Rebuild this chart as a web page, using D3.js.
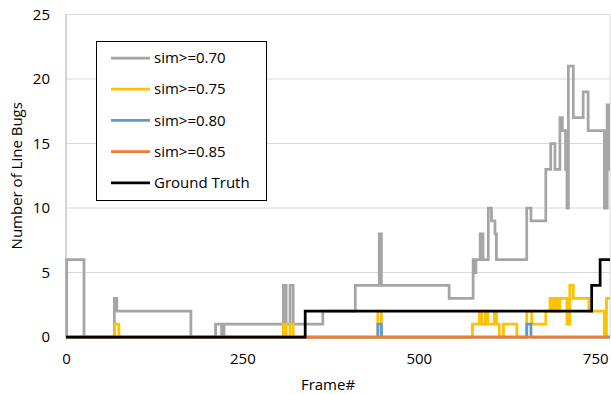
<!DOCTYPE html>
<html>
<head>
<meta charset="utf-8">
<script src="https://cdn.jsdelivr.net/npm/d3@7"></script>
<style>
  html, body { margin: 0; padding: 0; background: #fff; }
  svg text { font-family: "Open Sans", "Noto Sans", sans-serif; fill: #000; }
</style>
</head>
<body>
<div id="chart"></div>
<script>
// step series: [frame, bugs], each value holds until the next frame
const sim070 = [[0,0],[1,6],[25.5,0],[68.5,3],[72,2],[177,0],[212,1],[220.5,0],[224,1],[308,4],[312,1],[317.5,4],[322,1],
  [364,2],[410,4],[444,8],[447,4],[543,3],[577,6],[579,5],[581,6],[587,8],[591,6],[598.5,10],[603,9],[608,8],[610,6],
  [653,10],[659,9],[680,13],[687,15],[693,13],[700,17],[703.5,16],[708,13],[710,10],[712,21],[719,17],[733,19],[740,16],
  [763,10],[767,18],[769,13],[771,13]];
const sim075 = [[0,0],[69,1],[75,0],[308,1],[312,0],[317.5,1],[322,0],[442,2],[447,0],[576,1],[586,2],[589,1],[594,2],
  [598,1],[607,2],[610,1],[614,0],[620,1],[639,0],[653,2],[660,1],[680,2],[686,3],[690,2],[693,3],[697,2],[700,3],
  [710,1],[714,4],[719,3],[741,2],[763,0],[766,3],[771,3]];
const sim080 = [[0,0],[442,1],[447,0],[653,1],[659,0],[771,0]];
const sim085 = [[0,0],[771,0]];
const truth  = [[0,0],[339,2],[745,4],[757,6],[771,6]];

const seriesNames = ["sim>=0.70", "sim>=0.75", "sim>=0.80", "sim>=0.85", "Ground Truth"];
const seriesData = [sim070, sim075, sim080, sim085, truth];
const seriesColors = ["#A5A5A5", "#FFC000", "#5B9BD5", "#ED7D31", "#000000"];
const xTicks = [0, 250, 500, 750];
const yTicks = [0, 5, 10, 15, 20, 25];

const W = 611, H = 394;
const m = { t: 14.5, r: 1, b: 57, l: 66 };
const iw = W - m.l - m.r, ih = H - m.t - m.b;

const svg = d3.select("#chart").append("svg").attr("width", W).attr("height", H);
const g = svg.append("g").attr("transform", `translate(${m.l},${m.t})`);

const x = d3.scaleLinear().domain([0, 771]).range([0, iw]);
const y = d3.scaleLinear().domain([0, 25]).range([ih, 0]);

svg.append("defs").append("clipPath").attr("id", "plotclip")
  .append("rect").attr("x", -2).attr("y", -2).attr("width", iw + 2).attr("height", ih + 4);

// gridlines + plot border
g.selectAll("line.grid").data(yTicks.filter(d => d > 0 && d < 25)).join("line").attr("class", "grid")
  .attr("x1", 0).attr("x2", iw).attr("y1", d => y(d)).attr("y2", d => y(d))
  .attr("stroke", "#D9D9D9").attr("stroke-width", 1);
g.append("rect").attr("x", 0).attr("y", 0).attr("width", iw).attr("height", ih)
  .attr("fill", "none").attr("stroke", "#D9D9D9").attr("stroke-width", 1);
g.append("line").attr("x1", 0).attr("x2", 0).attr("y1", 0).attr("y2", ih).attr("stroke", "#BFBFBF");

// axes (labels only)
const gx = g.append("g").attr("transform", `translate(0,${ih})`)
  .call(d3.axisBottom(x).tickValues(xTicks).tickSize(0).tickPadding(16));
const gy = g.append("g").call(d3.axisLeft(y).tickValues(yTicks).tickSize(0).tickPadding(16));
[gx, gy].forEach(a => {
  a.select(".domain").remove();
  a.selectAll("text").attr("font-size", 15).attr("font-family", "\"Open Sans\", sans-serif").attr("fill", "#000");
});

// series
const line = d3.line().x(d => x(d[0])).y(d => y(d[1])).curve(d3.curveStepAfter);
g.append("g").attr("clip-path", "url(#plotclip)")
  .selectAll("path").data(seriesData).join("path")
  .attr("d", line).attr("fill", "none")
  .attr("stroke", (d, i) => seriesColors[i]).attr("stroke-width", 2.75)
  .attr("stroke-linejoin", "miter");

// axis titles
svg.append("text").attr("x", m.l + iw / 2 - 10).attr("y", 390).attr("text-anchor", "middle")
  .attr("font-size", 15).text("Frame#");
svg.append("text").attr("transform", `translate(21.5,${m.t + ih / 2}) rotate(-90)`)
  .attr("text-anchor", "middle").attr("font-size", 15).text("Number of Line Bugs");

// legend
const lg = svg.append("g").attr("transform", "translate(96,41)");
lg.append("rect").attr("x", 0.5).attr("y", 0.5).attr("width", 170).attr("height", 159)
  .attr("fill", "#fff").attr("stroke", "#000").attr("stroke-width", 1);
const rows = lg.selectAll("g.item").data(seriesNames).join("g").attr("class", "item")
  .attr("transform", (d, i) => `translate(0,${17 + i * 31.2})`);
rows.append("line").attr("x1", 15).attr("x2", 54).attr("stroke", (d, i) => seriesColors[i]).attr("stroke-width", 2.75);
rows.append("text").attr("x", 58).attr("dy", "0.35em").attr("font-size", 15).text(d => d);
</script>
</body>
</html>
